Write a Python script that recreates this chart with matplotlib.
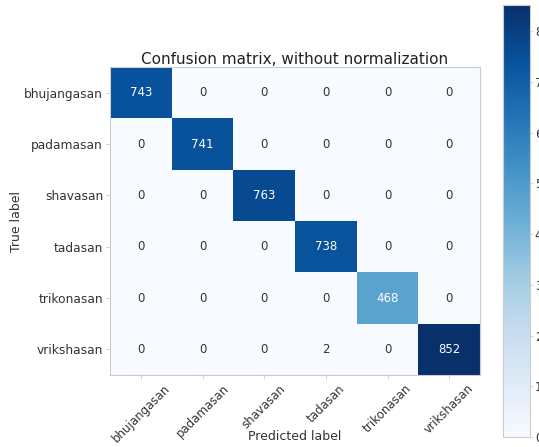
import numpy as np
import matplotlib
matplotlib.use("Agg")
import matplotlib.pyplot as plt

classes = ["bhujangasan", "padamasan", "shavasan", "tadasan", "trikonasan", "vrikshasan"]
cm = np.array([
    [743, 0, 0, 0, 0, 0],
    [0, 741, 0, 0, 0, 0],
    [0, 0, 763, 0, 0, 0],
    [0, 0, 0, 738, 0, 0],
    [0, 0, 0, 0, 468, 0],
    [0, 0, 0, 2, 0, 852],
])
cbar_ticks = [0, 100, 200, 300, 400, 500, 600, 700, 800]

text_col = "#333333"
edge_col = "#cccccc"

W, H = 539, 447
fig = plt.figure(figsize=(W / 100, H / 100), dpi=100)


def px_axes(x0, y0, x1, y1):
    return fig.add_axes([x0 / W, 1 - y1 / H, (x1 - x0) / W, (y1 - y0) / H])


ax = px_axes(110, 67, 480, 375)
cax = px_axes(503, 5, 530, 437)

im = ax.imshow(cm, interpolation="nearest", cmap=plt.cm.Blues, aspect="auto",
               vmin=0, vmax=cm.max())
ax.set_title("Confusion matrix, without normalization", fontsize=11,
             color="#222222", pad=2)

ticks = np.arange(len(classes))
ax.set_xticks(ticks)
ax.set_xticklabels(classes, rotation=45, ha="center", fontsize=8.5, color=text_col)
ax.set_yticks(ticks)
ax.set_yticklabels(classes, fontsize=8.8, color=text_col)
ax.tick_params(length=3, width=0.6, color=edge_col, pad=2)
for s in ax.spines.values():
    s.set_color(edge_col)
    s.set_linewidth(0.8)

thresh = cm.max() / 2.0
for i in range(cm.shape[0]):
    for j in range(cm.shape[1]):
        ax.text(j, i, format(cm[i, j], "d"), ha="center", va="center",
                fontsize=8.5,
                color="white" if cm[i, j] > thresh else text_col)

ax.set_ylabel("True label", fontsize=9, color=text_col, va="center")
ax.yaxis.set_label_coords(-0.252, 0.5)
ax.set_xlabel("Predicted label", fontsize=9, color=text_col, va="center")
ax.xaxis.set_label_coords(0.5, -0.20)

cb = fig.colorbar(im, cax=cax, ticks=cbar_ticks)
cb.outline.set_edgecolor(edge_col)
cb.outline.set_linewidth(0.8)
cax.tick_params(length=2.5, width=0.6, color=edge_col, labelsize=8.5,
                labelcolor=text_col, pad=1)

fig.savefig("out.png", dpi=100)
